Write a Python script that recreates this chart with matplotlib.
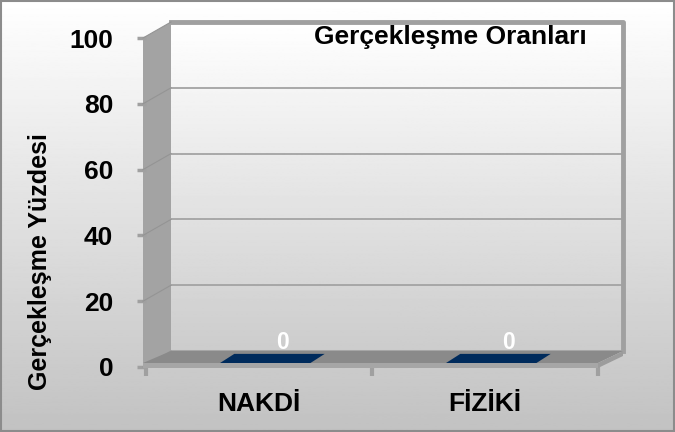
import numpy as np
import matplotlib.pyplot as plt
from matplotlib.patches import Polygon, Rectangle
from matplotlib.transforms import offset_copy

categories = ['NAKDİ', 'FİZİKİ']
values = [0, 0]
yticks = [0, 20, 40, 60, 80, 100]
title = 'Gerçekleşme Oranları'
ylabel = 'Gerçekleşme Yüzdesi'

plt.rcParams['font.family'] = ['Liberation Sans', 'DejaVu Sans']
plt.rcParams['font.weight'] = 'bold'
fs = 19

W, H = 675, 432
DX, DY = 25, 16  # depth offset of the back wall, px

fig = plt.figure(figsize=(6.75, 4.32), dpi=100)

# figure background gradient + border
bg = fig.add_axes([0, 0, 1, 1], zorder=-1)
bg.imshow(np.linspace(1, 0.76, 256)[:, None], cmap='gray', vmin=0, vmax=1,
          aspect='auto', extent=[0, 1, 0, 1])
bg.axis('off')
bg.add_patch(Rectangle((0.002, 0.003), 0.996, 0.994, fill=False, ec='#8c8c8c',
                       lw=1.5, transform=bg.transAxes))

ax = fig.add_axes([146 / W, (H - 367) / H, 452 / W, 329 / H])
ax.patch.set_visible(False)
for s in ax.spines.values():
    s.set_visible(False)
ax.set_xlim(-0.5, 1.5)
ax.set_ylim(0, 100)


def pt(x, y, d=0.0, up=0.0, right=0.0):
    p = ax.transData.transform((x, y)) + np.array([DX * d + right, DY * d + up])
    return p / [W, H]


def poly(pts, color, z):
    ax.add_patch(Polygon(pts, closed=True, fc=color, ec='none',
                         transform=fig.transFigure, clip_on=False, zorder=z))


# back wall
back = offset_copy(ax.transData, fig=fig, x=DX, y=DY, units='dots')
ax.imshow(np.linspace(1, 0.8, 256)[:, None], cmap='gray', vmin=0, vmax=1,
          aspect='auto', extent=[-0.5, 1.5, 0, 100], transform=back,
          clip_on=False, zorder=0.5)
for y in yticks:
    ax.plot([-0.5, 1.5], [y, y], color='#a3a3a3', lw=1.3, transform=back,
            clip_on=False, zorder=1)
ax.plot([-0.5, 1.5, 1.5], [100, 100, 0], color='#a0a0a0', lw=3.5,
        transform=back, clip_on=False, zorder=1.1, solid_joinstyle='round')

# left wall
poly([pt(-0.5, 0, 0, right=-3), pt(-0.5, 100, 0, right=-3),
      pt(-0.5, 100, 1), pt(-0.5, 0, 1)], '#a3a3a3', 1.5)
for y in yticks:
    a, b = pt(-0.5, y, 0, right=-3), pt(-0.5, y, 1)
    ax.plot([a[0], b[0]], [a[1], b[1]], color='#949494', lw=0.8,
            transform=fig.transFigure, clip_on=False, zorder=1.6)

# floor
poly([pt(-0.5, 0, 1), pt(1.5, 0, 1), pt(1.5, 0, 0, up=4),
      pt(-0.5, 0, 0, up=4, right=-3)], '#8a8a8a', 2)
poly([pt(-0.5, 0, 0, up=4, right=-3), pt(1.5, 0, 0, up=4),
      pt(1.5, 0, 0, up=-1), pt(-0.5, 0, 0, up=-1, right=-3)], '#a6a6a6', 2)
poly([pt(1.5, 0, 0, up=4), pt(1.5, 0, 1), pt(1.5, 0, 1, up=-5),
      pt(1.5, 0, 0, up=-1)], '#9c9c9c', 2)

# bars (3d box: front face, side, top)
bw = 0.4
for i, v in enumerate(values):
    x0, x1 = i - bw / 2, i + bw / 2
    poly([pt(x0, 0, 0.25), pt(x1, 0, 0.25), pt(x1, v, 0.25), pt(x0, v, 0.25)],
         '#002b5c', 3)
    poly([pt(x1, 0, 0.25), pt(x1, 0, 0.82), pt(x1, v, 0.82), pt(x1, v, 0.25)],
         '#001f44', 3)
    poly([pt(x0, v, 0.25), pt(x1, v, 0.25), pt(x1, v, 0.82), pt(x0, v, 0.82)],
         '#002b5c', 3.1)
    ax.annotate(f'{v:g}', xy=(i, v), xytext=(17, 17.5), textcoords='offset points',
                ha='center', va='center', color='white', fontsize=16.5,
                fontweight='bold', annotation_clip=False, zorder=5)

ax.set_yticks(yticks)
ax.tick_params(axis='y', length=6.5, width=2.5, color='#a0a0a0', pad=17,
               labelsize=fs)
ax.set_xticks(range(len(categories)), categories)
ax.set_xticks([-0.5, 0.5, 1.5], minor=True)
ax.tick_params(axis='x', which='major', length=0, pad=18, labelsize=fs)
ax.tick_params(axis='x', which='minor', length=6.5, width=3, color='#a0a0a0')

fig.text(450 / W, 1 - 37 / H, title, ha='center', va='center', fontsize=fs,
         fontweight='bold')
fig.text(40 / W, 1 - 262 / H, ylabel, ha='center', va='center', rotation=90,
         fontsize=18, fontweight='bold')

fig.savefig('out.png', dpi=100)
